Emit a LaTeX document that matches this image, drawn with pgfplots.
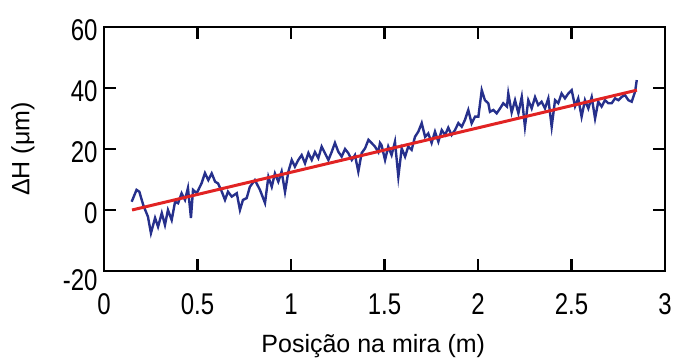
\documentclass[border=0pt]{standalone}
\usepackage{pgfplots}
\pgfplotsset{compat=1.18}
\usepackage{fontspec}
\setmainfont{Liberation Sans}
\newfontfamily\narrowfont[FakeStretch=0.8]{Liberation Sans}
\definecolor{bl}{RGB}{38,48,140}
\definecolor{rd}{RGB}{225,35,35}
\begin{document}
\begin{tikzpicture}
\path (0,0) rectangle (675pt,358pt);
\begin{axis}[
  at={(104pt,87pt)}, anchor=south west,
  scale only axis, width=561pt, height=244pt,
  clip=false,
  xmin=0, xmax=3, ymin=-20, ymax=60,
  xtick={0,0.5,1,1.5,2,2.5,3},
  xticklabels={0,0.5,1,1.5,2,2.5,3},
  ytick={-20,0,20,40,60}, yticklabels={,0,20,40,60},
  extra y ticks={-20}, extra y tick labels={-20},
  extra y tick style={yticklabel style={yshift=-6pt}},
  tick align=inside,
  major tick length=12pt,
  tick style={draw=black, line width=2.4pt},
  axis line style={line width=2.2pt},
  ticklabel style={font=\narrowfont\fontsize{30}{30}\selectfont},
  yticklabel style={yshift=-3pt, xshift=-3pt},
  xticklabel style={yshift=-19pt},
  xlabel={Posição na mira (m)},
  ylabel={ΔH (μm)},
  label style={font=\fontsize{25}{25}\selectfont},
  xlabel style={at={(axis description cs:0.48,-0.332)}, anchor=base},
  ylabel style={at={(axis description cs:-0.1444,0.5)}, anchor=center},
]
\pgfplotsinvokeforeach{0.5,1,1.5,2,2.5}{
  \addplot[black, line width=2.4pt, forget plot] coordinates {(#1,-20) (#1,-16)};
  \addplot[black, line width=2.4pt, forget plot] coordinates {(#1,60) (#1,56)};
}
\pgfplotsinvokeforeach{0,20,40}{
  \addplot[black, line width=2.6pt, forget plot] coordinates {(0,#1) (0.05,#1)};
  \addplot[black, line width=2.6pt, forget plot] coordinates {(3,#1) (2.95,#1)};
}
\addplot[bl, line width=2.4pt] table {
x y
0.148 2.7
0.174 6.6
0.189 6.0
0.210 1.6
0.235 -2.2
0.251 -7.6
0.273 -2.6
0.289 -5.5
0.309 -1.0
0.326 -4.9
0.342 0.0
0.362 -3.3
0.380 2.7
0.396 2.2
0.415 5.5
0.433 3.3
0.449 7.2
0.465 -2.6
0.476 6.6
0.496 5.5
0.522 8.8
0.540 12.1
0.558 9.8
0.576 12.0
0.594 9.3
0.610 8.7
0.630 6.0
0.647 3.3
0.663 6.0
0.683 4.4
0.710 5.5
0.727 0.0
0.743 3.3
0.763 3.9
0.780 7.6
0.807 9.8
0.834 6.6
0.861 2.3
0.879 10.9
0.897 7.6
0.914 12.0
0.932 9.3
0.950 12.6
0.968 5.9
0.986 12.6
1.004 16.4
1.021 14.2
1.039 16.4
1.057 18.0
1.075 15.3
1.093 18.7
1.111 16.4
1.128 19.0
1.146 17.0
1.164 20.8
1.182 18.6
1.200 16.4
1.218 19.1
1.235 22.0
1.253 19.1
1.271 17.5
1.289 20.0
1.307 18.6
1.325 16.4
1.342 18.0
1.360 12.6
1.378 18.7
1.396 20.2
1.414 23.0
1.432 21.9
1.449 20.8
1.467 19.0
1.476 22.0
1.484 21.3
1.503 16.4
1.520 20.8
1.538 18.0
1.556 22.4
1.574 10.9
1.592 20.2
1.610 17.5
1.627 20.8
1.645 19.7
1.663 24.0
1.681 25.7
1.699 28.5
1.717 24.0
1.734 25.1
1.752 22.0
1.770 25.7
1.788 22.4
1.806 26.2
1.824 24.6
1.841 27.0
1.859 24.6
1.877 26.2
1.895 28.5
1.913 27.3
1.930 29.5
1.948 32.8
1.966 28.4
1.984 30.6
2.002 30.6
2.020 39.3
2.037 36.0
2.055 35.0
2.064 32.2
2.082 32.8
2.100 31.7
2.118 33.3
2.135 35.0
2.155 33.9
2.162 38.2
2.180 32.0
2.198 36.0
2.216 31.7
2.234 37.1
2.251 27.3
2.269 36.0
2.287 33.3
2.305 37.0
2.322 34.4
2.340 35.5
2.358 33.3
2.376 36.6
2.394 27.3
2.412 36.0
2.429 35.0
2.447 38.2
2.465 36.6
2.483 38.2
2.501 39.3
2.519 34.0
2.536 36.6
2.554 30.6
2.572 36.0
2.590 33.3
2.608 37.0
2.626 30.0
2.643 35.5
2.661 33.9
2.679 36.0
2.697 35.0
2.715 35.0
2.733 36.6
2.751 36.0
2.769 37.1
2.786 37.7
2.804 36.0
2.822 35.5
2.840 38.8
2.849 42.6
};
\addplot[rd, line width=3pt] coordinates {(0.15,0) (2.85,39.3)};
\end{axis}
\end{tikzpicture}
\end{document}
